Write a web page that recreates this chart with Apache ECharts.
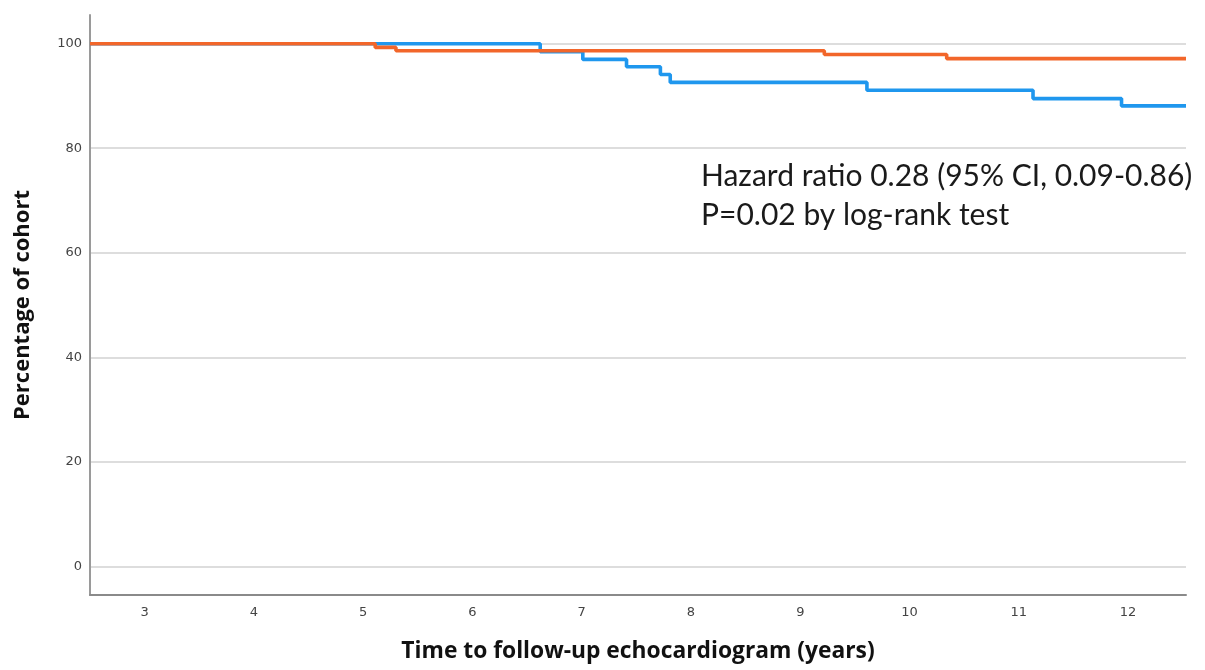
<!DOCTYPE html>
<html>
<head>
<meta charset="utf-8">
<script src="https://cdn.jsdelivr.net/npm/echarts@6/dist/echarts.min.js"></script>
<style>
  html, body { margin: 0; padding: 0; background: #fff; }
  #chart { width: 1205px; height: 670px; }
</style>
</head>
<body>
<div id="chart"></div>
<script>
// Kaplan-Meier style survival curves: event times (years) and the
// percentage remaining after each event; last entry is end of follow-up.
const blueTimes  = [2.5, 6.62, 7.01, 7.41, 7.72, 7.81, 9.61, 11.13, 11.94, 12.53];
const blueValues = [100, 98.5, 97.0, 95.6, 94.1, 92.6, 91.1, 89.5, 88.1, 88.1];

const orangeTimes  = [2.5, 5.11, 5.30, 9.22, 10.34, 12.53];
const orangeValues = [100, 99.3, 98.65, 97.95, 97.15, 97.15];

const xTicks = [3, 4, 5, 6, 7, 8, 9, 10, 11, 12];
const yTicks = [0, 20, 40, 60, 80, 100];

const annotationLines = [
  'Hazard ratio 0.28 (95% CI, 0.09-0.86)',
  'P=0.02 by log-rank test'
];

const pairs = (xs, ys) => xs.map((x, i) => [x, ys[i]]);

const chart = echarts.init(document.getElementById('chart'), null, { renderer: 'canvas' });

chart.setOption({
  animation: false,
  backgroundColor: '#ffffff',
  grid: { left: 90, right: 19, top: 15, bottom: 75 },
  xAxis: {
    type: 'value',
    min: 2.5,
    max: 12.53,
    name: 'Time to follow-up echocardiogram (years)',
    nameLocation: 'middle',
    nameGap: 45,
    nameTextStyle: { fontFamily: 'Open Sans', fontWeight: 'bold', fontSize: 22.8, color: '#111' },
    axisLine: { show: true, onZero: false, lineStyle: { color: '#8a8a8a', width: 2 } },
    axisTick: { show: false, customValues: xTicks },
    axisLabel: { customValues: xTicks, margin: 11, fontFamily: 'DejaVu Sans', fontSize: 13, color: '#444' },
    splitLine: { show: false }
  },
  yAxis: {
    type: 'value',
    min: -5.5,
    max: 105.5,
    name: 'Percentage of cohort',
    nameLocation: 'middle',
    nameGap: 56,
    nameRotate: 90,
    nameTextStyle: { fontFamily: 'Open Sans', fontWeight: 'bold', fontSize: 22, color: '#111' },
    axisLine: { show: true, onZero: false, lineStyle: { color: '#9a9a9a', width: 2 } },
    axisTick: { show: false, customValues: yTicks },
    axisLabel: { customValues: yTicks, margin: 8, fontFamily: 'DejaVu Sans', fontSize: 13, color: '#444' },
    splitLine: { show: true, lineStyle: { color: '#d2d2d2', width: 1.5 } }
  },
  series: [
    {
      name: 'Group A',
      type: 'line',
      step: 'end',
      symbol: 'none',
      data: pairs(blueTimes, blueValues),
      lineStyle: { color: '#1f97ee', width: 3.6 },
      z: 2
    },
    {
      name: 'Group B',
      type: 'line',
      step: 'end',
      symbol: 'none',
      data: pairs(orangeTimes, orangeValues),
      lineStyle: { color: '#f2662a', width: 3.6 },
      z: 3
    }
  ],
  graphic: [
    {
      type: 'text',
      left: 701,
      top: 157,
      style: {
        text: annotationLines.join('\n'),
        fontFamily: 'Lato',
        fontSize: 30,
        lineHeight: 39,
        fill: '#1a1a1a'
      }
    }
  ]
});
</script>
</body>
</html>
